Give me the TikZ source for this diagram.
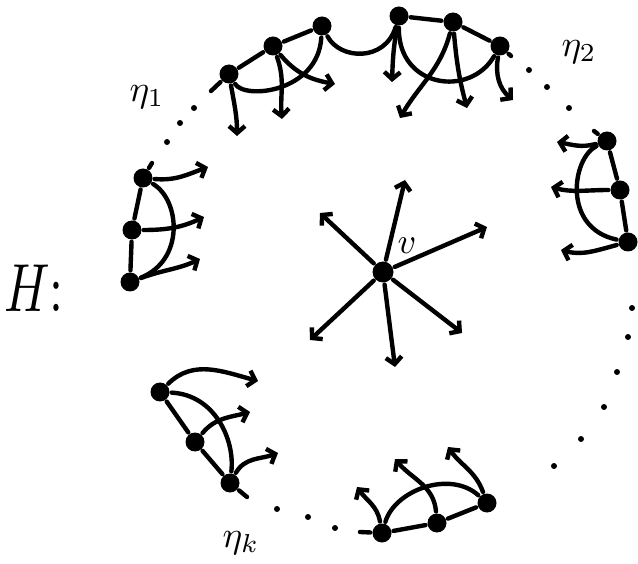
\documentclass[tikz,border=0pt]{standalone}
\usetikzlibrary{arrows.meta}
\begin{document}
\begin{tikzpicture}[x=1pt,y=1pt,line width=4.4pt,line cap=round,line join=round,
  vtx/.style={circle,fill,inner sep=0pt,minimum size=19pt},
  bigvtx/.style={circle,fill,inner sep=0pt,minimum size=21pt},
  ell/.style={circle,fill,inner sep=0pt,minimum size=6pt},
  arr/.style={-{Straight Barb[length=7pt,width=16pt]}},
  lbl/.style={inner sep=0pt,scale=3.7}]
\useasboundingbox (0,0) rectangle (638,-564);
% cluster 1
\node[vtx] (A1) at (229,-74) {};
\node[vtx] (A2) at (273,-46) {};
\node[vtx] (A3) at (322,-26) {};
\coordinate (a1s) at (211,-91);
\coordinate (a1t) at (237,-136);
\coordinate (a2t) at (282,-119);
\coordinate (a2u) at (335,-84);
\draw (A1) -- (A2) -- (A3);
\draw (A1) .. controls (245,-100) and (318,-92) .. (A3);
\draw (A1) -- (a1s);
\draw[arr] (A1) to[out=-80,in=90] (a1t);
\draw[arr] (A2) to[out=-70,in=95] (a2t);
\draw[arr] (A2) to[out=-50,in=170] (a2u);
% cluster 2
\node[vtx] (B1) at (399,-16) {};
\node[vtx] (B2) at (453,-22) {};
\node[vtx] (B3) at (500,-46) {};
\coordinate (b1t) at (392,-82);
\coordinate (b2t) at (400,-118);
\coordinate (b2u) at (467,-108);
\coordinate (b3t) at (513,-100);
\coordinate (b3s) at (511,-56);
\draw (A3) .. controls (340,-60) and (385,-62) .. (B1);
\draw (B1) -- (B2) -- (B3);
\draw (B1) .. controls (398,-88) and (470,-98) .. (B3);
\draw (B3) -- (b3s);
\draw[arr] (B1) to[out=-100,in=88] (b1t);
\draw[arr] (B2) to[out=-105,in=60] (b2t);
\draw[arr] (B2) to[out=-85,in=105] (b2u);
\draw[arr] (B3) to[out=-100,in=140] (b3t);
% cluster 3
\node[vtx] (C1) at (607,-141) {};
\node[vtx] (C2) at (620,-190) {};
\node[vtx] (C3) at (628,-242) {};
\coordinate (c1s) at (594,-131);
\coordinate (c1t) at (557,-142);
\coordinate (c2t) at (551,-187);
\coordinate (c3t) at (561,-250);
\draw (C1) -- (C2) -- (C3);
\draw (C1) .. controls (572,-158) and (562,-228) .. (C3);
\draw (C1) -- (c1s);
\draw[arr] (C1) to[out=195,in=-10] (c1t);
\draw[arr] (C2) to[out=180,in=-15] (c2t);
\draw[arr] (C3) to[out=195,in=-15] (c3t);
% cluster 4
\node[vtx] (D1) at (382,-533) {};
\node[vtx] (D2) at (437,-523) {};
\node[vtx] (D3) at (487,-503) {};
\coordinate (d1s) at (360,-532);
\coordinate (d1t) at (357,-487);
\coordinate (d2t) at (395,-459);
\coordinate (d3t) at (448,-447);
\draw (D1) -- (D2) -- (D3);
\draw (D1) .. controls (395,-490) and (450,-470) .. (D3);
\draw (D1) -- (d1s);
\draw[arr] (D1) to[out=100,in=-55] (d1t);
\draw[arr] (D2) to[out=95,in=-50] (d2t);
\draw[arr] (D3) to[out=110,in=-55] (d3t);
% cluster 5
\node[vtx] (E1) at (160,-392) {};
\node[vtx] (E2) at (195,-442) {};
\node[vtx] (E3) at (230,-483) {};
\coordinate (e1t) at (258,-381);
\coordinate (e2t) at (250,-412);
\coordinate (e3t) at (278,-453);
\coordinate (e3s) at (247,-497);
\draw (E1) -- (E2) -- (E3);
\draw (E1) .. controls (215,-395) and (235,-440) .. (E3);
\draw (E3) -- (e3s);
\draw[arr] (E1) to[out=45,in=165] (e1t);
\draw[arr] (E2) to[out=50,in=195] (e2t);
\draw[arr] (E3) to[out=60,in=200] (e3t);
% cluster 6
\node[vtx] (F1) at (143,-178) {};
\node[vtx] (F2) at (132,-230) {};
\node[vtx] (F3) at (130,-282) {};
\coordinate (f1t) at (208,-167);
\coordinate (f2t) at (204,-217);
\coordinate (f3t) at (200,-259);
\coordinate (f1s) at (152,-163);
\draw (F1) -- (F2) -- (F3);
\draw (F1) .. controls (180,-200) and (185,-260) .. (F3);
\draw (F1) -- (f1s);
\draw[arr] (F1) to[out=-5,in=200] (f1t);
\draw[arr] (F2) to[out=0,in=205] (f2t);
\draw[arr] (F3) to[out=20,in=205] (f3t);
% centre
\node[bigvtx] (V) at (383,-272) {};
\coordinate (v1) at (405,-180);
\coordinate (v2) at (320,-213);
\coordinate (v3) at (487,-227);
\coordinate (v4) at (310,-340);
\coordinate (v5) at (395,-367);
\coordinate (v6) at (462,-333);
\foreach \t in {v1,v2,v3,v4,v5,v6} \draw[arr] (V) -- (\t);
% ellipsis dots
\foreach \p [count=\i] in {(167,-142),(180,-123),(194,-108),(529,-70),(547,-87),(569,-108),
  (632,-308),(628,-337),(617,-372),(604,-407),(581,-439),(554,-466),
  (277,-509),(308,-517),(335,-528)} \node[ell] (dot\i) at \p {};
% labels
\node[lbl] (l1) at (147,-97) {$\eta_1$};
\node[lbl] (l2) at (579,-52) {$\eta_2$};
\node[lbl] (lk) at (241,-543) {$\eta_k$};
\node[inner sep=0pt,scale=3.6] (lv) at (407,-246) {$v$};
\node[inner sep=0pt,xscale=5,yscale=6.8] (lH) at (34,-288) {$H$:};
\end{tikzpicture}
\end{document}
